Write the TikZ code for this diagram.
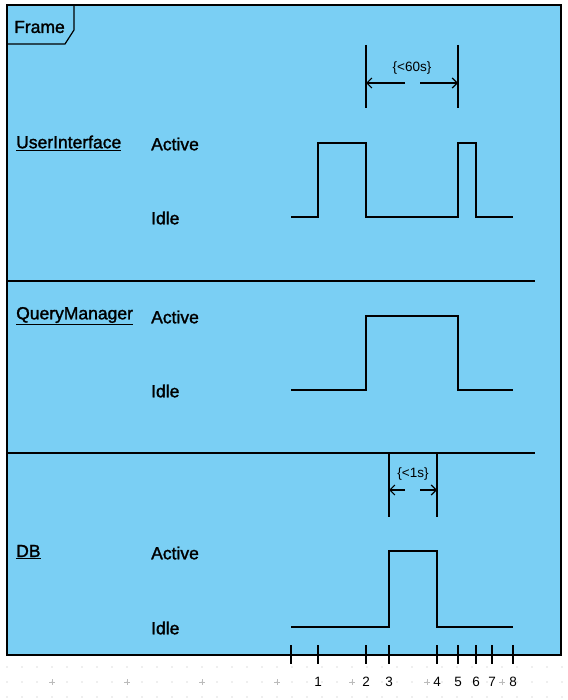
\documentclass[tikz,border=0pt]{standalone}
\usepackage{fontspec}
\setmainfont{Liberation Sans}
\newfontfamily\labelfont[FakeBold=1.5]{Liberation Sans}
\usetikzlibrary{positioning, arrows.meta}
\definecolor{framebg}{HTML}{7ACFF4}
\definecolor{gridgray}{HTML}{BBBBBB}

\begin{document}
\begin{tikzpicture}[x=1pt, y=-1pt,
					lifename/.style={anchor=west, inner sep=0pt, font=\labelfont\fontsize{17.5}{17.5}\selectfont},
					statename/.style={anchor=west, inner sep=0pt, font=\labelfont\fontsize{17.5}{17.5}\selectfont},
					wave/.style={line width=1.3pt},
					bound/.style={line width=1.2pt},
					span/.style={line width=1.2pt, -{Straight Barb[length=5pt, width=10pt]}},
					note/.style={inner sep=0pt, font=\fontsize{13.5}{13.5}\selectfont}
					]
					\useasboundingbox (0,0) rectangle (567,700);
					% editor grid
					\foreach \gx in {7,22,...,562}
						\foreach \gy in {667,682,697}
							\fill[gridgray] (\gx,\gy) circle (0.6pt);
					\foreach \gx in {52,127,...,562}
						\draw[gridgray, line width=0.6pt] (\gx-3,682) -- (\gx+3,682) (\gx,679) -- (\gx,685);
					% frame
					\draw[fill=framebg, line width=1.5pt] (7,5) rectangle (561,655);
					\draw[line width=1.2pt] (7,44) -- (65,44) -- (74,30) -- (74,5);
					\node[anchor=west, inner sep=0pt, font=\labelfont\fontsize{17.5}{17.5}\selectfont] (Frame) at (14,27) {Frame};
					\draw[line width=1.2pt] (7,281) -- (535,281);
					\draw[line width=1.2pt] (7,453) -- (535,453);
					% lifelines
					\node[lifename] (UI) at (16,143) {\underline{UserInterface}};
					\node[lifename] (QM) at (16,316) {\underline{QueryManager}};
					\node[lifename] (DB) at (16,552) {\underline{DB}};
					\node[statename] (UIActive) at (151,144) {Active};
					\node[statename] (UIIdle) at (151,218) {Idle};
					\node[statename] (QMActive) at (151,317) {Active};
					\node[statename] (QMIdle) at (151,391) {Idle};
					\node[statename] (DBActive) at (151,553) {Active};
					\node[statename] (DBIdle) at (151,628) {Idle};
					% state changes
					\draw[wave] (291,217) -- (318,217) -- (318,143) -- (366,143) -- (366,217)
						-- (458,217) -- (458,143) -- (476,143) -- (476,217) -- (513,217);
					\draw[wave] (291,390) -- (366,390) -- (366,316) -- (458,316) -- (458,390) -- (513,390);
					\draw[wave] (291,627) -- (389,627) -- (389,551) -- (437,551) -- (437,627) -- (513,627);
					% duration constraints
					\draw[bound] (366,45) -- (366,108);
					\draw[bound] (458,45) -- (458,108);
					\node[note] (C60) at (412,68) {\{<60s\}};
					\draw[span] (405,83) -- (366,83);
					\draw[span] (420,83) -- (458,83);
					\draw[bound] (389,453) -- (389,517);
					\draw[bound] (437,453) -- (437,517);
					\node[note] (C1) at (413,474) {\{<1s\}};
					\draw[span] (405,490) -- (389,490);
					\draw[span] (420,490) -- (437,490);
					% time axis
					\draw[bound] (291,645) -- (291,664);
					\foreach \t/\lab in {318/1, 366/2, 389/3, 437/4, 458/5, 476/6, 492/7, 513/8}{
						\draw[bound] (\t,645) -- (\t,664);
						\node[note] (T\lab) at (\t,682) {\lab};
					}
				\end{tikzpicture}
\end{document}
